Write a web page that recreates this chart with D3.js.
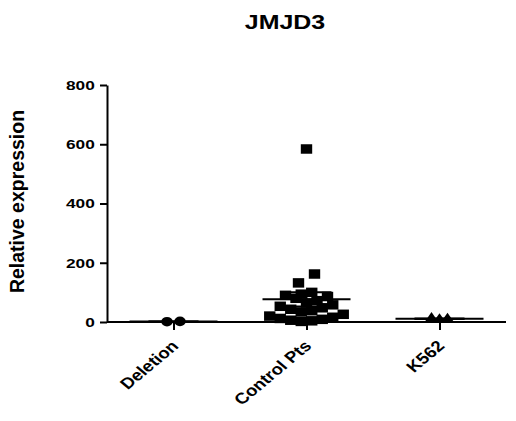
<!DOCTYPE html>
<html><head><meta charset="utf-8">
<script src="https://cdn.jsdelivr.net/npm/d3@7/dist/d3.min.js"></script>
<style>body{margin:0;background:#fff}svg{display:block;font-family:"Liberation Sans",Arial,sans-serif}</style>
</head><body><svg id="c" width="516" height="421"></svg>
<script>
const title = "JMJD3";
const yLabel = "Relative expression";
const categories = ["Deletion", "Control Pts", "K562"];
const deletionValues = [1, 2];
const controlValues = [584, 162, 132, 100, 94, 90, 86, 80, 72, 64, 58, 53, 48, 43, 38, 34, 26, 20, 16, 12, 9, 6, 4, 2];
const k562Values = [9, 13, 11];
const yTicks = [0, 200, 400, 600, 800];

(function () {
const SX = 1.28; // horizontal stretch of the reference rendering
const groups = [
  {name: categories[0], values: deletionValues, shape: d3.symbolCircle, area: 72, spacing: 13},
  {name: categories[1], values: controlValues, shape: d3.symbolSquare, area: 90, spacing: 10.5},
  {name: categories[2], values: k562Values, shape: d3.symbolTriangle, area: 48, spacing: 8}
];

const svg = d3.select("#c");
const mLeft = 107, mRight = 506, mTop = 85, mBottom = 322;
const x = d3.scalePoint().domain(categories).range([mLeft, mRight]).padding(0.5);
const y = d3.scaleLinear().domain([0, 800]).range([mBottom, mTop]);

// title
svg.append("text").attr("transform", `translate(285,29) scale(${SX},1)`).attr("text-anchor", "middle")
  .attr("font-size", 19.5).attr("font-weight", "bold").text(title);

// y label
svg.append("text").attr("transform", `translate(24,${(mTop+mBottom)/2-2}) rotate(-90)`)
  .attr("text-anchor", "middle").attr("font-size", 19.5).attr("font-weight", "bold").text(yLabel);

// y axis
const ya = svg.append("g").attr("transform", `translate(${mLeft},0)`)
  .call(d3.axisLeft(y).tickValues(yTicks).tickSize(7).tickSizeOuter(0).tickPadding(2.5));
ya.select(".domain").attr("stroke", "#000").attr("stroke-width", 2);
ya.selectAll(".tick line").attr("stroke-width", 2);
ya.selectAll("text").attr("font-size", 13.5).attr("font-weight", "bold").attr("fill", "#000")
  .attr("font-family", "Liberation Sans, Arial, sans-serif")
  .attr("transform", `scale(${SX},1)`);

// x axis
const xa = svg.append("g").attr("transform", `translate(0,${mBottom})`)
  .call(d3.axisBottom(x).tickSize(8).tickSizeOuter(0).tickFormat(""));
xa.select(".domain").attr("d", `M${mLeft},0H${mRight}`).attr("stroke", "#000").attr("stroke-width", 2);
xa.selectAll(".tick line").attr("stroke-width", 2);

// x labels
svg.selectAll(".xl").data(categories).enter().append("text")
  .attr("transform", d => `translate(${x(d)+6},347) scale(1.2,1) rotate(-45)`)
  .attr("text-anchor", "end").attr("font-size", 15.5).attr("font-weight", "bold").text(d => d);

// points: row-binned scatter (like a column scatter dot plot)
const binPx = 9;
groups.forEach(g => {
  const cx = x(g.name);
  const sorted = g.values.slice().sort((a, b) => a - b);
  const bins = d3.groups(sorted, v => Math.floor((mBottom - y(v)) / binPx));
  const placed = [];
  bins.forEach(([, vals]) => {
    const n = vals.length;
    if (n > 1) {
      const slots = d3.range(n).map(i => (i - (n - 1) / 2) * g.spacing);
      // center-out slot order, alternating sides
      const c = Math.floor((n - 1) / 2);
      const order = [c];
      for (let k = 1; order.length < n; k++) {
        if (c + k < n) order.push(c + k);
        if (c - k >= 0 && order.length < n) order.push(c - k);
      }
      vals.forEach((v, i) => placed.push({x: cx + slots[order[i]], y: y(v), v}));
    } else {
      const v = vals[0], py = y(v);
      const cands = [0, -8, 8, -16, 16, -24, 24];
      let off = 0;
      for (const c of cands) {
        const ok = placed.every(p => Math.abs(p.x - (cx + c)) >= 10 || Math.abs(p.y - py) >= 10);
        if (ok) { off = c; break; }
      }
      placed.push({x: cx + off, y: py, v});
    }
  });
  svg.append("g").selectAll("path").data(placed).enter().append("path")
    .attr("transform", d => `translate(${d.x},${d.y}) scale(1.2,1)`)
    .attr("d", d3.symbol().type(g.shape).size(g.area)).attr("fill", "#000");

  // mean and SEM
  const m = d3.mean(g.values);
  const sem = g.values.length > 1 ? d3.deviation(g.values) / Math.sqrt(g.values.length) : 0;
  const lg = svg.append("g").attr("stroke", "#000").attr("stroke-width", 2);
  lg.append("line").attr("x1", cx - 44).attr("x2", cx + 44).attr("y1", y(m)).attr("y2", y(m));
  lg.append("line").attr("x1", cx).attr("x2", cx).attr("y1", y(m - sem)).attr("y2", y(m + sem));
  [m - sem, m + sem].forEach(v => {
    lg.append("line").attr("x1", cx - 25).attr("x2", cx + 25).attr("y1", y(v)).attr("y2", y(v));
  });
});
})();
</script></body></html>
